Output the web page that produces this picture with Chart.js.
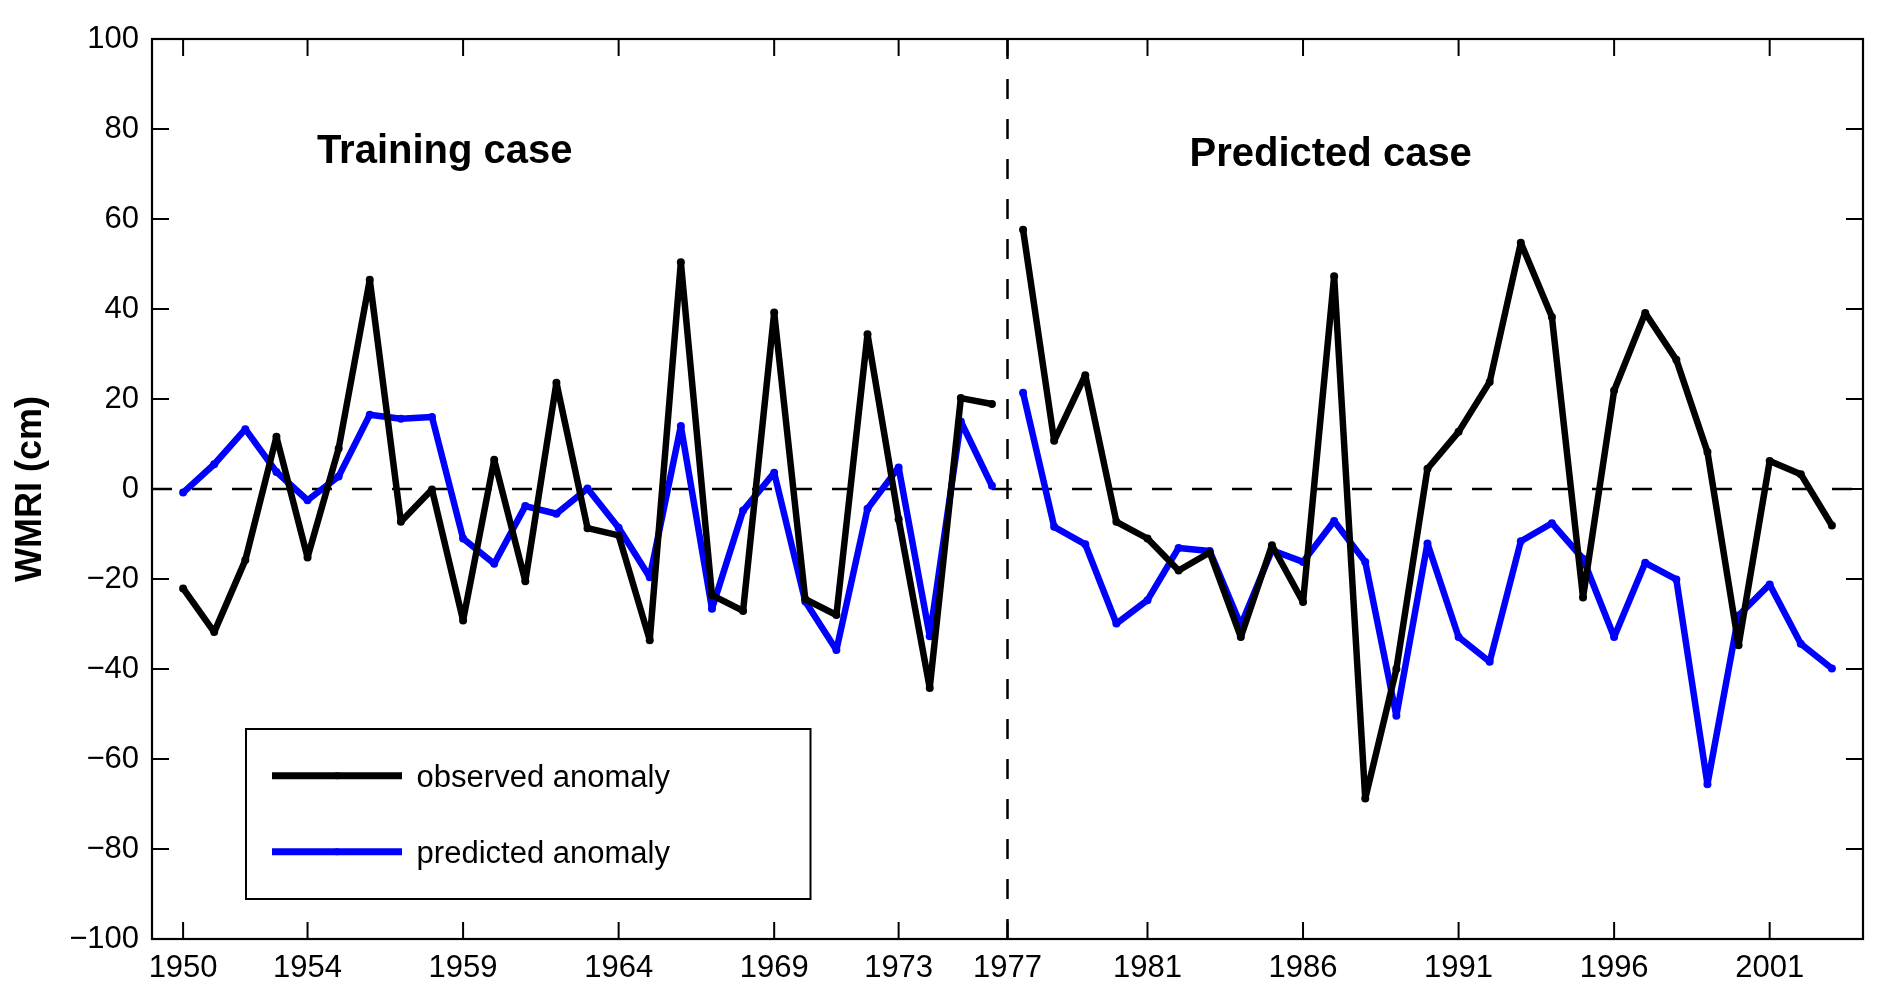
<!DOCTYPE html>
<html>
<head>
<meta charset="utf-8">
<title>WMRI anomaly</title>
<script src="https://cdn.jsdelivr.net/npm/chart.js@4.4.1/dist/chart.umd.min.js"></script>
<style>
  html, body { margin: 0; padding: 0; background: #fff; }
  #wrap { width: 1883px; height: 1003px; }
</style>
</head>
<body>
<div id="wrap"><canvas id="chart"></canvas></div>
<script>
// anos do período de treino e do período previsto
const TRAIN_YEARS = [1950, 1951, 1952, 1953, 1954, 1955, 1956, 1957, 1958, 1959,
  1960, 1961, 1962, 1963, 1964, 1965, 1966, 1967, 1968, 1969,
  1970, 1971, 1972, 1973, 1974, 1975, 1976];
const TEST_YEARS = [1977, 1978, 1979, 1980, 1981, 1982, 1983, 1984, 1985, 1986,
  1987, 1988, 1989, 1990, 1991, 1992, 1993, 1994, 1995, 1996,
  1997, 1998, 1999, 2000, 2001, 2002, 2003];

// anomalias (cm)
const OBS_TRAIN = [-22.1, -31.8, -15.8, 11.6, -15.2, 9.0, 46.5, -7.3, -0.1, -29.2,
  6.5, -20.5, 23.6, -8.7, -10.3, -33.6, 50.4, -23.6, -27.1, 39.2,
  -24.5, -28.0, 34.4, -6.7, -44.2, 20.2, 18.9];
const PRED_TRAIN = [-0.8, 5.5, 13.3, 3.8, -2.5, 2.8, 16.5, 15.6, 16.0, -11.0,
  -16.6, -3.8, -5.5, 0.1, -8.6, -19.6, 14.0, -26.6, -4.8, 3.6,
  -25.0, -35.8, -4.4, 4.8, -32.7, 15.0, 0.7];
const OBS_TEST = [57.6, 10.7, 25.3, -7.3, -11.0, -18.1, -14.1, -32.9, -12.5, -25.1,
  47.3, -68.8, -40.0, 4.5, 12.7, 23.8, 54.7, 38.2, -24.1, 21.9,
  39.1, 28.7, 8.2, -34.7, 6.2, 3.3, -8.1];
const PRED_TEST = [21.4, -8.4, -12.3, -29.9, -24.7, -13.1, -13.8, -30.3, -13.6, -16.2,
  -7.1, -16.2, -50.4, -12.1, -32.9, -38.4, -11.6, -7.6, -15.5, -32.9,
  -16.4, -20.1, -65.6, -28.1, -21.2, -34.4, -39.9];

// eixo x é um índice (1950 = 1); o rótulo "1977" fica na divisória
const X_TICK_POS = [1, 5, 10, 15, 20, 24, 27.5, 32, 37, 42, 47, 52];
const X_TICK_LABELS = ["1950", "1954", "1959", "1964", "1969", "1973", "1977",
  "1981", "1986", "1991", "1996", "2001"];
const X_MIN = 0, X_MAX = 55;
const Y_MIN = -100, Y_MAX = 100, Y_STEP = 20;
const SPLIT_X = 27.5;

const CASE_LABELS = [
  { text: "Training case", x: 5.3, y: 72.4 },
  { text: "Predicted case", x: 33.35, y: 71.7 },
];

const FONT = '"Liberation Sans", Arial, Helvetica, sans-serif';
const BLACK = "#000000";
const BLUE = "#0000ff";

const toXY = (years, vals) => years.map((yr, i) => ({ x: yr - 1949, y: vals[i] }));

function serie(label, years, vals, cor, inLegend) {
  return {
    label,
    inLegend,
    data: toXY(years, vals),
    borderColor: cor,
    backgroundColor: cor,
    borderWidth: 6.5,
    borderJoinStyle: "round",
    pointRadius: 4,
    pointBorderWidth: 0,
    pointBackgroundColor: cor,
    tension: 0,
    order: inLegend === undefined ? 1 : 0,
  };
}

function tracejada(pts) {
  return {
    label: "",
    data: pts,
    borderColor: BLACK,
    borderWidth: 2.5,
    borderDash: [20, 20],
    pointRadius: 0,
    tension: 0,
    order: 5,
  };
}

// moldura fechada (estilo MATLAB) com marcas de escala para dentro nos 4 lados
const moldura = {
  id: "moldura",
  afterDatasetsDraw(chart) {
    const { ctx, chartArea: a, scales } = chart;
    const len = 17;
    ctx.save();
    ctx.strokeStyle = BLACK;
    ctx.lineWidth = 2;
    ctx.beginPath();
    X_TICK_POS.forEach(v => {
      const px = scales.x.getPixelForValue(v);
      ctx.moveTo(px, a.bottom); ctx.lineTo(px, a.bottom - len);
      ctx.moveTo(px, a.top); ctx.lineTo(px, a.top + len);
    });
    for (let v = Y_MIN; v <= Y_MAX; v += Y_STEP) {
      const py = scales.y.getPixelForValue(v);
      ctx.moveTo(a.left, py); ctx.lineTo(a.left + len, py);
      ctx.moveTo(a.right, py); ctx.lineTo(a.right - len, py);
    }
    ctx.stroke();
    ctx.lineWidth = 2.2;
    ctx.strokeRect(a.left, a.top, a.right - a.left, a.bottom - a.top);
    ctx.restore();
  },
};

// textos "Training case" / "Predicted case" em coordenadas de dado
const rotulosCaso = {
  id: "rotulosCaso",
  afterDatasetsDraw(chart) {
    const { ctx, scales } = chart;
    ctx.save();
    ctx.fillStyle = BLACK;
    ctx.font = "bold 40px " + FONT;
    ctx.textBaseline = "alphabetic";
    ctx.textAlign = "left";
    CASE_LABELS.forEach(l => {
      ctx.fillText(l.text, scales.x.getPixelForValue(l.x), scales.y.getPixelForValue(l.y));
    });
    ctx.restore();
  },
};

// legenda em caixa dentro da área do gráfico
const legendaCaixa = {
  id: "legendaCaixa",
  afterDraw(chart) {
    const { ctx, chartArea: a } = chart;
    const itens = chart.data.datasets.filter(d => d.inLegend);
    const bx = a.left + 94, by = a.top + 690, bw = 564.5, bh = 170;
    ctx.save();
    ctx.fillStyle = "#fff";
    ctx.fillRect(bx, by, bw, bh);
    ctx.strokeStyle = BLACK;
    ctx.lineWidth = 2;
    ctx.strokeRect(bx, by, bw, bh);
    itens.forEach((d, i) => {
      const y = by + 46.7 + i * 76;
      ctx.strokeStyle = d.borderColor;
      ctx.lineWidth = 7;
      ctx.lineCap = "butt";
      ctx.beginPath();
      ctx.moveTo(bx + 26, y);
      ctx.lineTo(bx + 156, y);
      ctx.stroke();
      ctx.fillStyle = d.borderColor;
      ctx.beginPath();
      ctx.arc(bx + 91, y, 3.5, 0, Math.PI * 2);
      ctx.fill();
      ctx.fillStyle = BLACK;
      ctx.font = "31px " + FONT;
      ctx.textBaseline = "alphabetic";
      ctx.fillText(d.label, bx + 170.6, y + 11.6);
    });
    ctx.restore();
  },
};

Chart.defaults.font.family = FONT;
Chart.defaults.color = BLACK;

new Chart(document.getElementById("chart").getContext("2d"), {
  type: "line",
  data: {
    datasets: [
      serie("observed anomaly", TRAIN_YEARS, OBS_TRAIN, BLACK, true),
      serie("predicted anomaly", TRAIN_YEARS, PRED_TRAIN, BLUE, true),
      serie("observed anomaly", TEST_YEARS, OBS_TEST, BLACK),
      serie("predicted anomaly", TEST_YEARS, PRED_TEST, BLUE),
      tracejada([{ x: X_MIN, y: 0 }, { x: X_MAX, y: 0 }]),
      tracejada([{ x: SPLIT_X, y: Y_MAX }, { x: SPLIT_X, y: Y_MIN }]),
    ],
  },
  options: {
    responsive: true,
    maintainAspectRatio: false,
    animation: false,
    events: [],
    devicePixelRatio: 1,
    layout: { padding: { top: 39, right: 20, left: 0, bottom: 0 } },
    plugins: { legend: { display: false }, tooltip: { enabled: false } },
    scales: {
      x: {
        type: "linear",
        min: X_MIN,
        max: X_MAX,
        grid: { display: false, drawTicks: false },
        border: { display: false },
        afterBuildTicks: s => { s.ticks = X_TICK_POS.map(v => ({ value: v })); },
        afterFit: s => { s.height = 64; },
        ticks: {
          autoSkip: false,
          maxRotation: 0,
          padding: 11,
          font: { size: 31 },
          color: BLACK,
          callback: v => X_TICK_LABELS[X_TICK_POS.indexOf(v)],
        },
      },
      y: {
        min: Y_MIN,
        max: Y_MAX,
        grid: { display: false, drawTicks: false },
        border: { display: false },
        afterFit: s => { s.width = 152; },
        ticks: {
          stepSize: Y_STEP,
          padding: 13,
          font: { size: 31 },
          color: BLACK,
          callback: v => (v < 0 ? "\u2212" + Math.abs(v) : String(v)),
        },
        title: {
          display: true,
          text: "WMRI (cm)",
          color: BLACK,
          font: { size: 36, weight: "bold" },
          padding: { top: 9, bottom: 0 },
        },
      },
    },
  },
  plugins: [moldura, rotulosCaso, legendaCaixa],
});
</script>
</body>
</html>
